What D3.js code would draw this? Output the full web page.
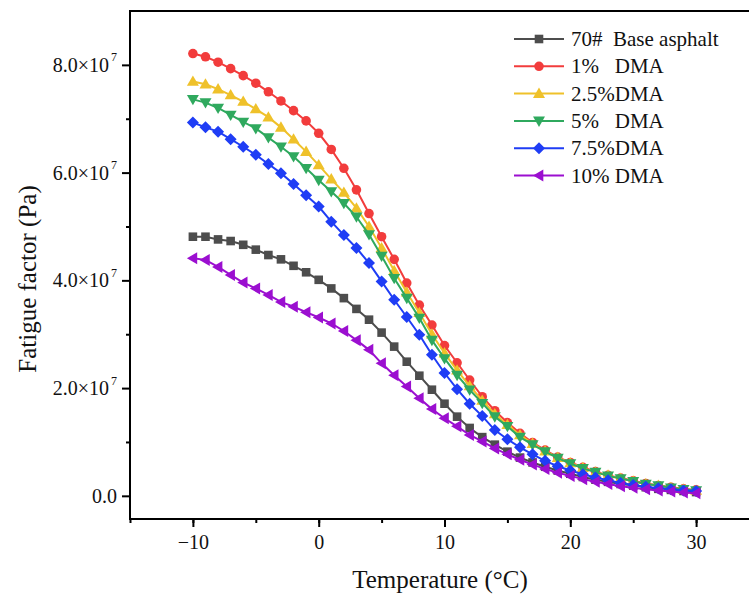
<!DOCTYPE html>
<html lang="en">
<head>
<meta charset="UTF-8">
<title>Fatigue factor vs temperature</title>
<script src="https://d3js.org/d3.v7.min.js"></script>
<style>
  body { margin: 0; background: #fff; }
  svg { display: block; font-family: "Liberation Serif", "DejaVu Serif", serif; }
  .legend text { white-space: pre; }
</style>
</head>
<body>
<svg id="chart" width="749" height="601"></svg>
<script>
// temperatures -10 .. 30 step 1
const temps = d3.range(-10, 31);

// values in units of 1e7 Pa
const base70 = [4.81, 4.81, 4.76, 4.73, 4.66, 4.57, 4.47, 4.39, 4.27, 4.15,
  4.01, 3.85, 3.67, 3.47, 3.27, 3.03, 2.77, 2.49, 2.23, 1.97,
  1.71, 1.47, 1.26, 1.09, 0.95, 0.82, 0.71, 0.62, 0.54, 0.47,
  0.41, 0.35, 0.30, 0.26, 0.22, 0.19, 0.16, 0.13, 0.11, 0.09, 0.07];
const dma1 = [8.21, 8.15, 8.05, 7.93, 7.80, 7.66, 7.50, 7.33, 7.15, 6.96,
  6.73, 6.43, 6.08, 5.68, 5.24, 4.81, 4.39, 3.95, 3.54, 3.17,
  2.79, 2.47, 2.15, 1.84, 1.58, 1.36, 1.16, 0.99, 0.85, 0.72,
  0.62, 0.53, 0.45, 0.38, 0.33, 0.28, 0.23, 0.19, 0.16, 0.13, 0.11];
const dma25 = [7.69, 7.64, 7.55, 7.44, 7.32, 7.18, 7.03, 6.84, 6.62, 6.39,
  6.14, 5.88, 5.63, 5.34, 5.00, 4.60, 4.18, 3.78, 3.40, 3.00,
  2.65, 2.33, 2.04, 1.77, 1.52, 1.32, 1.13, 0.97, 0.83, 0.71,
  0.61, 0.52, 0.44, 0.38, 0.32, 0.27, 0.22, 0.19, 0.15, 0.12, 0.10];
const dma5 = [7.36, 7.30, 7.20, 7.07, 6.94, 6.82, 6.65, 6.48, 6.30, 6.08,
  5.86, 5.65, 5.43, 5.18, 4.85, 4.45, 4.04, 3.67, 3.30, 2.89,
  2.55, 2.24, 1.97, 1.72, 1.47, 1.29, 1.09, 0.95, 0.82, 0.70,
  0.60, 0.51, 0.44, 0.37, 0.32, 0.27, 0.22, 0.19, 0.15, 0.12, 0.10];
const dma75 = [6.93, 6.84, 6.76, 6.62, 6.48, 6.33, 6.16, 5.99, 5.79, 5.58,
  5.37, 5.09, 4.84, 4.60, 4.32, 3.98, 3.64, 3.32, 2.99, 2.62,
  2.28, 1.98, 1.71, 1.48, 1.22, 1.05, 0.90, 0.77, 0.65, 0.55,
  0.47, 0.40, 0.34, 0.29, 0.24, 0.20, 0.17, 0.14, 0.12, 0.10, 0.09];
const dma10 = [4.41, 4.38, 4.25, 4.10, 3.96, 3.85, 3.73, 3.60, 3.51, 3.41,
  3.31, 3.20, 3.06, 2.89, 2.71, 2.46, 2.24, 2.03, 1.81, 1.61,
  1.44, 1.29, 1.13, 1.01, 0.88, 0.77, 0.67, 0.58, 0.50, 0.43,
  0.37, 0.31, 0.26, 0.22, 0.18, 0.15, 0.12, 0.10, 0.08, 0.06, 0.05];

const seriesNames = ["70#  Base asphalt", "1%   DMA", "2.5%DMA", "5%   DMA", "7.5%DMA", "10% DMA"];
const seriesValues = [base70, dma1, dma25, dma5, dma75, dma10];
const seriesColors = ["#4d4d4d", "#f23c3c", "#efc12a", "#2fa95e", "#1f3df5", "#9b0fd0"];
const seriesSymbols = ["square", "circle", "up", "down", "diamond", "left"];

const xTicks = [-10, 0, 10, 20, 30];
const yTicks = [0, 2, 4, 6, 8];
const yTickLabels = ["0.0", "2.0×10", "4.0×10", "6.0×10", "8.0×10"];

const svg = d3.select("#chart");
const plotLeft = 130, plotRight = 759, plotTop = 11, plotBottom = 519;

const x = d3.scaleLinear().domain([-15, 35]).range([plotLeft, plotRight]);
const y = d3.scaleLinear().domain([-0.43, 9.0]).range([plotBottom, plotTop]);

// frame
svg.append("rect")
  .attr("x", plotLeft).attr("y", plotTop)
  .attr("width", plotRight - plotLeft).attr("height", plotBottom - plotTop)
  .attr("fill", "none").attr("stroke", "#000").attr("stroke-width", 2);

// x axis
const xAxis = svg.append("g").attr("transform", `translate(0,${plotBottom})`);
xAxis.call(d3.axisBottom(x).tickValues(d3.range(-15, 35, 5)).tickSize(4).tickFormat(""))
  .call(g => g.select(".domain").remove());
xAxis.append("g")
  .call(d3.axisBottom(x).tickValues(xTicks).tickSize(8).tickPadding(8).tickFormat(d => d < 0 ? "\u2212" + Math.abs(d) : d))
  .call(g => g.select(".domain").remove());
xAxis.selectAll("line").attr("stroke", "#000").attr("stroke-width", 2);
xAxis.selectAll("text").attr("font-size", 20).attr("fill", "#111").attr("font-family", "Liberation Serif");

// y axis
const yAxis = svg.append("g").attr("transform", `translate(${plotLeft},0)`);
yAxis.call(d3.axisLeft(y).tickValues(d3.range(1, 9, 2)).tickSize(4).tickFormat(""))
  .call(g => g.select(".domain").remove());
const yMajor = yAxis.append("g")
  .call(d3.axisLeft(y).tickValues(yTicks).tickSize(8).tickPadding(8).tickFormat(""))
  .call(g => g.select(".domain").remove());
yAxis.selectAll("line").attr("stroke", "#000").attr("stroke-width", 2);
yMajor.selectAll(".tick text").each(function(d, i) {
  const t = d3.select(this)
    .attr("font-size", 20).attr("fill", "#111").attr("font-family", "Liberation Serif")
    .attr("x", i === 0 ? -13 : -21);
  t.text(yTickLabels[i]);
  if (i > 0) {
    d3.select(this.parentNode).append("text")
      .attr("x", -13).attr("y", -4)
      .attr("font-size", 12).attr("fill", "#111").attr("font-family", "Liberation Serif")
      .attr("text-anchor", "end")
      .text("7");
  }
});

// axis titles
svg.append("text")
  .attr("x", 440).attr("y", 588)
  .attr("text-anchor", "middle").attr("font-size", 25).attr("fill", "#111")
  .text("Temperature (°C)");
svg.append("text")
  .attr("transform", "translate(36,279) rotate(-90)")
  .attr("text-anchor", "middle").attr("font-size", 25).attr("fill", "#111")
  .text("Fatigue factor (Pa)");

// marker shapes
function markerPath(kind) {
  switch (kind) {
    case "square": return "M-4.3,-4.3H4.3V4.3H-4.3Z";
    case "circle": return d3.symbol(d3.symbolCircle, 72)();
    case "up": return "M0,-6L6,4.3L-6,4.3Z";
    case "down": return "M0,6L6,-4.3L-6,-4.3Z";
    case "diamond": return "M0,-6L6,0L0,6L-6,0Z";
    case "left": return "M-6,0L4.3,-6L4.3,6Z";
  }
}

const line = d3.line().x((d, i) => x(temps[i])).y(d => y(d));

const plot = svg.append("g");
seriesValues.forEach((vals, s) => {
  const g = plot.append("g");
  g.append("path").datum(vals)
    .attr("d", line)
    .attr("fill", "none").attr("stroke", seriesColors[s]).attr("stroke-width", 2);
  g.selectAll("path.m").data(vals).join("path")
    .attr("class", "m")
    .attr("transform", (d, i) => `translate(${x(temps[i])},${y(d)})`)
    .attr("d", markerPath(seriesSymbols[s]))
    .attr("fill", seriesColors[s]);
});

// legend
const legend = svg.append("g").attr("class", "legend").attr("transform", "translate(514,39)");
seriesNames.forEach((name, i) => {
  const row = legend.append("g").attr("transform", `translate(0,${i * 27.3})`);
  row.append("line").attr("x1", 0).attr("x2", 50)
    .attr("stroke", seriesColors[i]).attr("stroke-width", 2);
  row.append("path").attr("transform", "translate(25,0)")
    .attr("d", markerPath(seriesSymbols[i])).attr("fill", seriesColors[i]);
  row.append("text").attr("x", 57).attr("y", 7)
    .attr("font-size", 21).attr("fill", "#111")
    .attr("xml:space", "preserve")
    .text(name);
});
</script>
</body>
</html>
